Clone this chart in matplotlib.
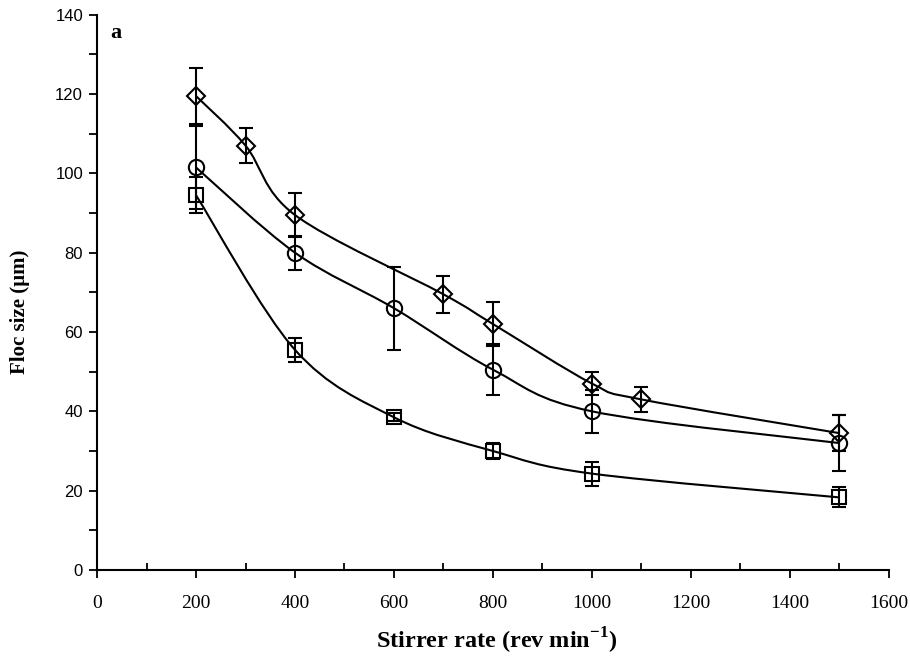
import matplotlib
matplotlib.use("Agg")
import matplotlib.pyplot as plt
import numpy as np
from matplotlib.path import Path
from matplotlib.patches import PathPatch
from matplotlib.ticker import MultipleLocator

# ---- data ----
diamond_x = [200, 300, 400, 700, 800, 1000, 1100, 1500]
diamond_y = [119.5, 107, 89.5, 69.5, 62, 47, 43, 34.5]
diamond_err = [7, 4.5, 5.5, 4.7, 5.5, 3, 3.2, 4.5]

circle_x = [200, 400, 600, 800, 1000, 1500]
circle_y = [101.5, 80, 66, 50.5, 40, 32]
circle_err = [10.5, 4.3, 10.5, 6.5, 5.5, 7]

square_x = [200, 400, 600, 800, 1000, 1500]
square_y = [94.5, 55.5, 38.5, 30, 24.3, 18.3]
square_err = [4.5, 3, 1, 2, 3, 2.5]

x_ticks = [0, 200, 400, 600, 800, 1000, 1200, 1400, 1600]
y_ticks = [0, 20, 40, 60, 80, 100, 120, 140]

SERIF = "Liberation Serif"
SANS = "Liberation Sans"


def smooth_path(xs, ys):
    """Excel-like smoothed line: cubic Bezier through every point."""
    p = np.column_stack([xs, ys]).astype(float)
    verts = [p[0]]
    codes = [Path.MOVETO]
    n = len(p)
    for i in range(n - 1):
        p0 = p[i - 1] if i > 0 else p[i]
        p3 = p[i + 2] if i + 2 < n else p[i + 1]
        c1 = p[i] + (p[i + 1] - p0) / 6.0
        c2 = p[i + 1] - (p3 - p[i]) / 6.0
        verts += [c1, c2, p[i + 1]]
        codes += [Path.CURVE4] * 3
    return Path(verts, codes)


fig = plt.figure(figsize=(9.1, 6.69), dpi=100)
ax = fig.add_axes([0.1066, 0.148, 0.8703, 0.83])

series = [
    (diamond_x, diamond_y, diamond_err, "D", 9),
    (circle_x, circle_y, circle_err, "o", 11),
    (square_x, square_y, square_err, "s", 10),
]
for xs, ys, err, mk, ms in series:
    ax.add_patch(PathPatch(smooth_path(xs, ys), fill=False, lw=1.5,
                           edgecolor="black", zorder=2))
    ax.errorbar(xs, ys, yerr=err, fmt="none", ecolor="black",
                elinewidth=1.5, capsize=5, capthick=1.5, zorder=3)
    ax.plot(xs, ys, linestyle="none", marker=mk, ms=ms, mfc="none",
            mec="black", mew=1.5, zorder=4)

ax.set_xlim(0, 1600)
ax.set_ylim(0, 140)
ax.set_xticks(x_ticks)
ax.set_yticks(y_ticks)
ax.xaxis.set_minor_locator(MultipleLocator(100))
ax.yaxis.set_minor_locator(MultipleLocator(10))

for s in ["top", "right"]:
    ax.spines[s].set_visible(False)
for s in ["left", "bottom"]:
    ax.spines[s].set_linewidth(1.5)

ax.tick_params(axis="x", which="major", direction="out", length=6, width=1.3,
               pad=12, labelsize=14, labelfontfamily=SERIF)
ax.tick_params(axis="x", which="minor", direction="in", length=5, width=1.3)
ax.tick_params(axis="y", which="major", direction="out", length=6, width=1.3,
               pad=4, labelsize=12, labelfontfamily=SANS)
ax.tick_params(axis="y", which="minor", direction="out", length=6, width=1.3)

ax.set_xlabel("Stirrer rate (rev min$^{\\mathregular{-1}}$)", fontfamily=SERIF,
              fontweight="bold", fontsize=17.5)
ax.set_ylabel("Floc size (\u00b5m)", fontfamily=SERIF, fontweight="bold",
              fontsize=15)
ax.xaxis.set_label_coords(0.505, -0.1)
ax.yaxis.set_label_coords(-0.085, 0.465)

ax.text(0.017, 0.985, "a", transform=ax.transAxes, fontfamily=SERIF,
        fontweight="bold", fontsize=16, va="top", ha="left")

fig.savefig("out.png", dpi=100)
